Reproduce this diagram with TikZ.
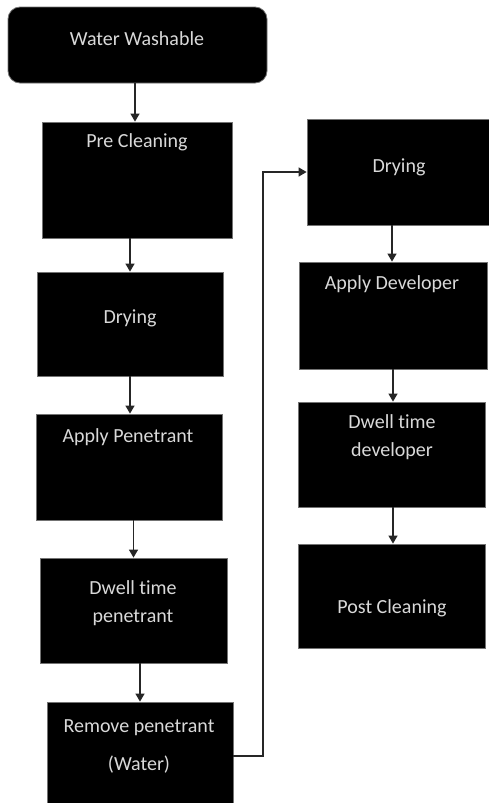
\documentclass[tikz,border=0pt]{standalone}
\usepackage{fontspec}
\setmainfont{Carlito}[Ligatures=NoCommon]
\usetikzlibrary{arrows.meta}

\begin{document}
\begin{tikzpicture}[x=1pt, y=-1pt,
    box/.style={draw=black!55, line width=0.8pt, fill=black, inner sep=0pt},
    txt/.style={text=white!85!black, font=\fontsize{20}{28}\selectfont, align=center},
    arr/.style={draw=black!85, line width=1.3pt, -{Triangle[length=8pt,width=9pt]}}]

  \useasboundingbox (0,0) rectangle (488,803);

  % left column
  \node[box, rounded corners=12pt, minimum width=259pt, minimum height=76pt] (ww) at (137.5,45) {};
  \node[box, minimum width=190pt, minimum height=116pt] (pre) at (137,180) {};
  \node[box, minimum width=186pt, minimum height=104pt] (dry1) at (130,324) {};
  \node[box, minimum width=186pt, minimum height=106pt] (app) at (129,467) {};
  \node[box, minimum width=187pt, minimum height=105pt] (dwp) at (133.5,610.5) {};
  \node[box, minimum width=186pt, minimum height=108pt] (rem) at (140,756) {};

  % right column
  \node[box, minimum width=184pt, minimum height=106pt] (dry2) at (399,172) {};
  \node[box, minimum width=188pt, minimum height=107pt] (appd) at (393,315.5) {};
  \node[box, minimum width=187pt, minimum height=105pt] (dwd) at (391.5,454.5) {};
  \node[box, minimum width=187pt, minimum height=104pt] (post) at (391.5,596) {};

  % texts
  \node[txt] (wwT) at (137,39) {Water Washable};
  \node[txt] (preT) at (137,142) {Pre Cleaning};
  \node[txt] (dry1T) at (130,318) {Drying};
  \node[txt] (appT) at (128,437) {Apply Penetrant};
  \node[txt] (dwpT) at (133,603) {Dwell time\\penetrant};
  \node[txt] (remT) at (139,746) {Remove penetrant\\[10pt](Water)};
  \node[txt] (dry2T) at (399,167) {Drying};
  \node[txt] (appdT) at (392,284) {Apply Developer};
  \node[txt] (dwdT) at (392,437.5) {Dwell time\\developer};
  \node[txt] (postT) at (392,608) {Post Cleaning};

  % connectors
  \coordinate (bend) at (263,0);
  \draw[arr] (ww.south -| 135,0) -- (pre.north -| 135,0);
  \draw[arr] (dry1.north |- pre.south) -- (dry1.north);
  \draw[arr] (dry1.south) -- (dry1.south |- app.north);
  \draw[arr] (dwp.north |- app.south) -- (dwp.north);
  \draw[arr] (rem.north |- dwp.south) -- (rem.north);
  \draw[arr] (rem.east) -- (rem.east -| bend) |- (dry2.west);
  \draw[arr] (dry2.south -| 392,0) -- (appd.north -| 392,0);
  \draw[arr] (appd.south -| 393,0) -- (dwd.north -| 393,0);
  \draw[arr] (dwd.south -| 393,0) -- (post.north -| 393,0);

\end{tikzpicture}
\end{document}
